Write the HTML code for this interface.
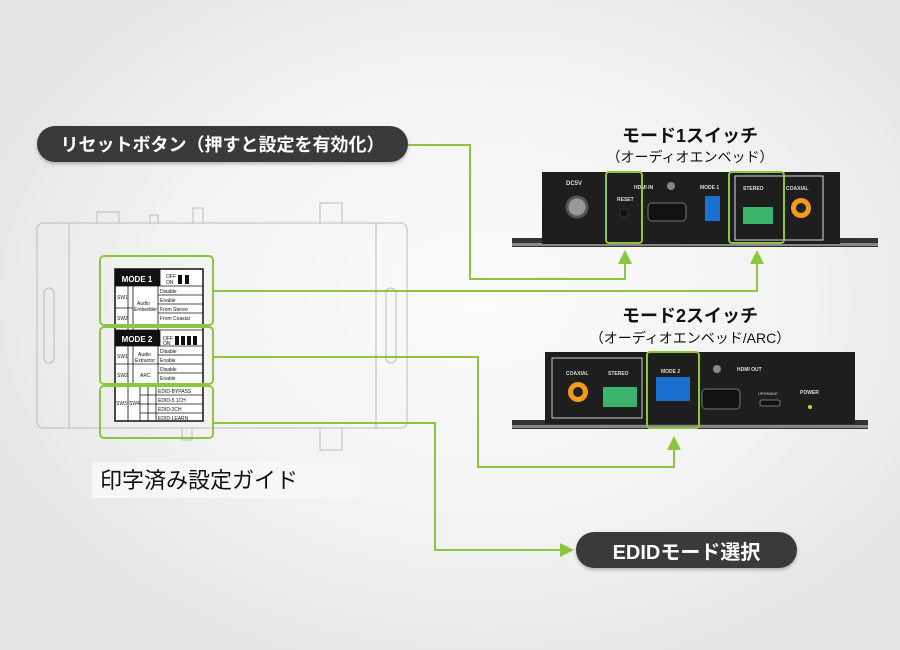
<!DOCTYPE html>
<html><head><meta charset="utf-8"><style>
html,body{margin:0;padding:0}
body{width:900px;height:650px;overflow:hidden;position:relative;background:radial-gradient(ellipse 520px 380px at 480px 300px,#fbfbfb 0%,#f3f3f3 60%,#e6e6e6 100%);font-family:"Liberation Sans","Noto Sans CJK JP",sans-serif}
.pill{position:absolute;background:#3a3a3a;color:#fff;border-radius:18px;font-weight:bold;display:flex;align-items:center;justify-content:center;box-shadow:0 2px 3px rgba(0,0,0,.25)}
.t{position:absolute;text-align:center;color:#111}
</style></head><body>
<div class="pill" style="left:37px;top:126px;width:371px;height:36px;font-size:18px;">リセットボタン（押すと設定を有効化）</div>
<div class="pill" style="left:576px;top:532px;width:221px;height:36px;font-size:20px;">EDIDモード選択</div>
<div class="t" style="left:560px;top:122px;width:260px;font-size:18px;font-weight:bold;">モード1スイッチ</div>
<div class="t" style="left:560px;top:147px;width:260px;font-size:14px;">（オーディオエンベッド）</div>
<div class="t" style="left:560px;top:302px;width:260px;font-size:18px;font-weight:bold;">モード2スイッチ</div>
<div class="t" style="left:540px;top:328px;width:300px;font-size:14px;">（オーディオエンベッド/ARC）</div>
<div style="position:absolute;left:92px;top:462px;width:266px;height:36px;background:#f7f7f7"></div>
<div style="position:absolute;left:100px;top:463px;font-size:22px;color:#111">印字済み設定ガイド</div>

<svg width="900" height="650" style="position:absolute;left:0;top:0" font-family="Liberation Sans, sans-serif">
<!-- left device outline -->
<g fill="none" stroke="#bbb" stroke-width="1">
<rect x="37" y="223" width="370" height="205" rx="6"/>
<line x1="69" y1="223" x2="69" y2="428"/><line x1="376" y1="223" x2="376" y2="428"/>
<rect x="44" y="288" width="10" height="75" rx="5"/><rect x="386" y="288" width="10" height="75" rx="5"/>
<rect x="97" y="212" width="22" height="11"/><rect x="193" y="208" width="10" height="15"/>
<rect x="320" y="203" width="22" height="20"/><rect x="150" y="215" width="8" height="8"/>
<rect x="182" y="428" width="10" height="12"/><rect x="320" y="428" width="22" height="22"/>
</g>
<!-- table -->
<rect x="115" y="269" width="88" height="152" fill="#fff" stroke="#111" stroke-width="1.5"/>
<rect x="115" y="269" width="45" height="17" fill="#111"/>
<text x="137" y="282" font-size="8" font-weight="bold" fill="#fff" text-anchor="middle">MODE 1</text>
<rect x="115" y="330" width="45" height="16" fill="#111"/>
<text x="137" y="342" font-size="8" font-weight="bold" fill="#fff" text-anchor="middle">MODE 2</text>
<g stroke="#111" stroke-width="0.8" fill="none">
<line x1="115" y1="286" x2="203" y2="286"/><line x1="115" y1="330" x2="203" y2="330"/><line x1="115" y1="346" x2="203" y2="346"/><line x1="115" y1="386" x2="203" y2="386"/>
<line x1="158" y1="295" x2="203" y2="295"/><line x1="158" y1="304" x2="203" y2="304"/><line x1="158" y1="313" x2="203" y2="313"/>
<line x1="158" y1="355" x2="203" y2="355"/><line x1="115" y1="364" x2="203" y2="364"/><line x1="158" y1="373" x2="203" y2="373"/>
<line x1="140" y1="395" x2="203" y2="395"/><line x1="140" y1="404" x2="203" y2="404"/><line x1="140" y1="413" x2="203" y2="413"/>
<line x1="158" y1="286" x2="158" y2="330"/><line x1="158" y1="346" x2="158" y2="386"/><line x1="160" y1="269" x2="160" y2="286"/><line x1="160" y1="330" x2="160" y2="346"/>
<line x1="128" y1="286" x2="128" y2="330"/><line x1="133" y1="286" x2="133" y2="330"/>
<line x1="128" y1="346" x2="128" y2="386"/><line x1="133" y1="346" x2="133" y2="386"/>
<line x1="128" y1="386" x2="128" y2="421"/><line x1="140" y1="386" x2="140" y2="421"/><line x1="148" y1="386" x2="148" y2="421"/><line x1="156" y1="386" x2="156" y2="421"/>
<line x1="115" y1="308" x2="133" y2="308"/>
</g>
<g font-size="5" fill="#111">
<text x="160" y="293">Disable</text><text x="160" y="302">Enable</text><text x="160" y="311">From Stereo</text><text x="160" y="320">From Coaxial</text>
<text x="160" y="353">Disable</text><text x="160" y="362">Enable</text><text x="160" y="371">Disable</text><text x="160" y="380">Enable</text>
<text x="158" y="393">EDID-BYPASS</text><text x="158" y="402">EDID-5.1CH</text><text x="158" y="411">EDID-2CH</text><text x="158" y="420">EDID-LEARN</text>
<text x="117" y="299">SW1</text><text x="117" y="320">SW2</text><text x="117" y="358">SW1</text><text x="117" y="377">SW2</text><text x="116" y="405">SW3</text><text x="129" y="405">SW4</text>
<text x="137" y="305">Audio</text><text x="134" y="311">Embedder</text><text x="138" y="356">Audio</text><text x="135" y="362">Extractor</text><text x="140" y="377">ARC</text>
<text x="166" y="278">OFF</text><text x="166" y="284">ON</text><text x="163" y="340">OFF</text><text x="163" y="345">ON</text>
</g>
<rect x="178" y="275" width="4" height="9" fill="#111"/><rect x="185" y="275" width="4" height="9" fill="#111"/>
<rect x="175" y="336" width="4" height="9" fill="#111"/><rect x="181" y="336" width="4" height="9" fill="#111"/><rect x="187" y="336" width="4" height="9" fill="#111"/><rect x="193" y="336" width="4" height="9" fill="#111"/>
<g fill="none" stroke="#8cc63f" stroke-width="2">
<rect x="100" y="256" width="113" height="69" rx="4"/><rect x="100" y="327" width="113" height="57" rx="4"/><rect x="100" y="386" width="113" height="52" rx="4"/>
</g>

<!-- device 1 -->
<rect x="512" y="238" width="366" height="9" fill="#333"/><rect x="512" y="243" width="366" height="3" fill="#888"/>
<rect x="542" y="172" width="298" height="72" fill="#1e1e1e"/>
<circle cx="577" cy="207" r="10" fill="#999" stroke="#555" stroke-width="3"/><text x="566" y="185" font-size="6" fill="#ddd" font-weight="bold">DC5V</text>
<text x="617" y="201" font-size="5" fill="#ddd" font-weight="bold">RESET</text><circle cx="624" cy="213" r="4" fill="#111" stroke="#333"/>
<text x="634" y="189" font-size="5" fill="#ddd" font-weight="bold">HDMI IN</text><circle cx="671" cy="186" r="4" fill="#888"/>
<rect x="648" y="203" width="38" height="18" rx="4" fill="#111" stroke="#777"/>
<text x="700" y="189" font-size="5" fill="#ddd" font-weight="bold">MODE 1</text><rect x="705" y="196" width="15" height="25" fill="#1a6fcf"/>
<rect x="735" y="176" width="88" height="64" fill="none" stroke="#ddd"/>
<text x="743" y="190" font-size="5" fill="#ddd" font-weight="bold">STEREO</text><text x="786" y="190" font-size="5" fill="#ddd" font-weight="bold">COAXIAL</text>
<rect x="743" y="207" width="30" height="17" fill="#3bb36a"/><circle cx="801" cy="208" r="10" fill="#f39a1f"/><circle cx="801" cy="208" r="5" fill="#222"/>
<g fill="none" stroke="#8cc63f" stroke-width="2"><rect x="606" y="172" width="36" height="71" rx="3"/><rect x="729" y="172" width="55" height="71" rx="3"/></g>

<!-- device 2 -->
<rect x="512" y="420" width="356" height="9" fill="#333"/><rect x="512" y="425" width="356" height="3" fill="#888"/>
<rect x="545" y="352" width="310" height="72" fill="#1e1e1e"/>
<rect x="552" y="358" width="90" height="60" fill="none" stroke="#ccc"/>
<text x="566" y="375" font-size="5" fill="#ddd" font-weight="bold">COAXIAL</text><text x="608" y="375" font-size="5" fill="#ddd" font-weight="bold">STEREO</text>
<circle cx="578" cy="392" r="10" fill="#f39a1f"/><circle cx="578" cy="392" r="5" fill="#222"/><rect x="603" y="387" width="34" height="20" fill="#3bb36a"/>
<text x="661" y="373" font-size="5" fill="#ddd" font-weight="bold">MODE 2</text><rect x="656" y="377" width="34" height="24" fill="#1a6fcf"/>
<rect x="702" y="389" width="38" height="20" rx="4" fill="#111" stroke="#777"/><circle cx="717" cy="369" r="4" fill="#888"/>
<text x="737" y="371" font-size="5" fill="#ddd" font-weight="bold">HDMI OUT</text><text x="758" y="395" font-size="4" fill="#ddd">UPGRADE</text><rect x="760" y="400" width="20" height="6" rx="2" fill="#111" stroke="#777"/>
<text x="800" y="394" font-size="5" fill="#ddd" font-weight="bold">POWER</text><circle cx="810" cy="407" r="2" fill="#b5e22a"/>
<rect x="647" y="352" width="52" height="76" rx="3" fill="none" stroke="#8cc63f" stroke-width="2"/>

<!-- connectors -->
<g fill="none" stroke="#8cc63f" stroke-width="2">
<polyline points="408,145 470,145 470,279 625,279 625,262"/>
<polyline points="213,291 757,291 757,262"/>
<polyline points="213,357 478,357 478,467 674,467 674,448"/>
<polyline points="213,423 435,423 435,550 562,550"/>
</g>
<g fill="#8cc63f">
<polygon points="625,250 618,264 632,264"/><polygon points="757,250 750,264 764,264"/>
<polygon points="674,436 667,450 681,450"/><polygon points="574,550 560,543 560,557"/>
</g>
</svg>
</body></html>
